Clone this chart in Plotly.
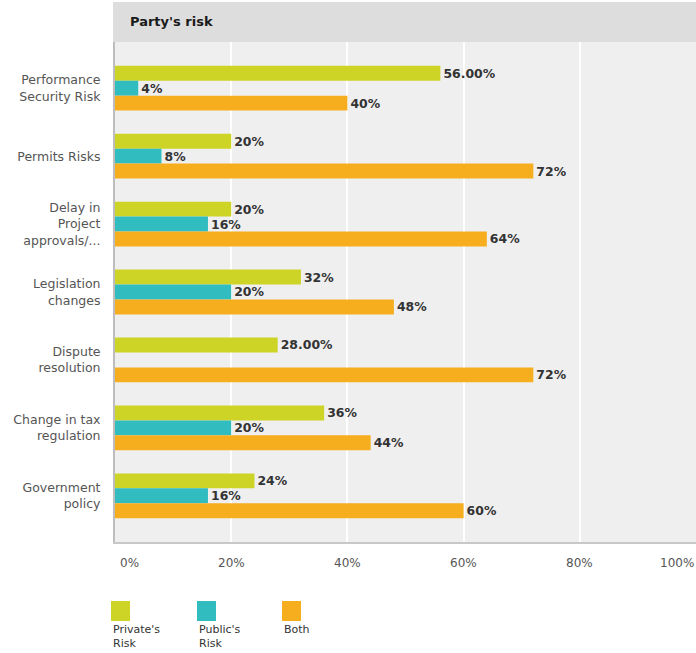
import plotly.graph_objects as go

# Risk allocation survey: share of respondents assigning each risk to a party
categories = [
    "Performance<br>Security Risk",
    "Permits Risks",
    "Delay in<br>Project<br>approvals/...",
    "Legislation<br>changes",
    "Dispute<br>resolution",
    "Change in tax<br>regulation",
    "Government<br>policy",
]
private_risk = [56, 20, 20, 32, 28, 36, 24]
public_risk = [4, 8, 16, 20, None, 20, 16]
both_risk = [40, 72, 64, 48, 72, 44, 60]

private_labels = ["56.00%", "20%", "20%", "32%", "28.00%", "36%", "24%"]
public_labels = ["4%", "8%", "16%", "20%", "", "20%", "16%"]
both_labels = ["40%", "72%", "64%", "48%", "72%", "44%", "60%"]

series_names = ["Private's<br>Risk", "Public's<br>Risk", "Both"]
series_colors = ["#cdd425", "#31bcbf", "#f6ad1e"]

tick_vals = [0, 20, 40, 60, 80, 100]
tick_labels = ["0%", "20%", "40%", "60%", "80%", "100%"]

FONT = "DejaVu Sans"
W, H = 696, 653
L, R, T, B = 115, 0, 42, 111

fig = go.Figure()
for vals, labels, name, color in zip(
    [private_risk, public_risk, both_risk],
    [private_labels, public_labels, both_labels],
    series_names,
    series_colors,
):
    fig.add_trace(go.Bar(
        y=list(range(len(categories))),
        x=vals,
        orientation="h",
        name=name,
        marker=dict(color=color, line=dict(width=0)),
        text=labels,
        textposition="outside",
        textfont=dict(family=FONT, size=12.5, color="#333333", weight="bold"),
        cliponaxis=False,
        showlegend=False,
    ))

# Header band with the panel title
fig.add_shape(type="rect", xref="paper", yref="paper",
              x0=-2 / (W - L - R), x1=1, y0=1, y1=1 + 40 / (H - T - B),
              fillcolor="#dddddd", line=dict(width=0), layer="below")
fig.add_annotation(xref="paper", yref="paper", x=13 / (W - L - R), y=1 + 20 / (H - T - B),
                   text="<b>Party's risk</b>", showarrow=False, xanchor="left", yanchor="middle",
                   font=dict(family=FONT, size=13, color="#1a1a1a"))

# Value axis labels, kept inside the figure at both ends
ph = H - T - B
for v, lab in zip(tick_vals, tick_labels):
    anchor = "left" if v == tick_vals[0] else ("right" if v == tick_vals[-1] else "center")
    fig.add_annotation(x=v, xref="x", yref="paper", y=-21 / ph, text=lab, showarrow=False,
                       xanchor=anchor, yanchor="middle", xshift=3 if anchor == "left" else 0,
                       font=dict(family=FONT, size=12, color="#555555"))

# Legend drawn below the value axis: swatch on top, name underneath
pw = W - L - R
legend_x = [111, 197, 282]
for px, name, color in zip(legend_x, series_names, series_colors):
    fig.add_shape(type="rect", xref="paper", yref="paper",
                  x0=(px - L) / pw, x1=(px + 19 - L) / pw,
                  y0=-(621 - (H - B)) / ph, y1=-(601 - (H - B)) / ph,
                  fillcolor=color, line=dict(width=0))
    fig.add_annotation(xref="paper", yref="paper", x=(px - L) / pw, y=-(621 - (H - B)) / ph,
                       text=name, showarrow=False, xanchor="left", yanchor="top", align="left",
                       font=dict(family=FONT, size=11, color="#333333"))

fig.update_layout(
    width=W, height=H,
    margin=dict(l=L, r=R, t=T, b=B, pad=0),
    barmode="group", bargap=0.34, bargroupgap=0,
    plot_bgcolor="#efefef", paper_bgcolor="#ffffff",
    font=dict(family=FONT),
    xaxis=dict(range=[0, 100], tickvals=tick_vals, showticklabels=False,
               showgrid=True, gridcolor="#ffffff", gridwidth=2, zeroline=False,
               showline=True, linecolor="#c8c8c8", linewidth=2, fixedrange=True),
    yaxis=dict(range=[6.68, -0.68], tickvals=list(range(len(categories))), ticktext=categories,
               showgrid=False, zeroline=False, showline=True, linecolor="#bdbdbd", linewidth=2,
               ticks="outside", ticklen=10, tickcolor="rgba(0,0,0,0)",
               tickfont=dict(family=FONT, size=12.5, color="#555555"), fixedrange=True),
)

fig.write_html("out.html")
